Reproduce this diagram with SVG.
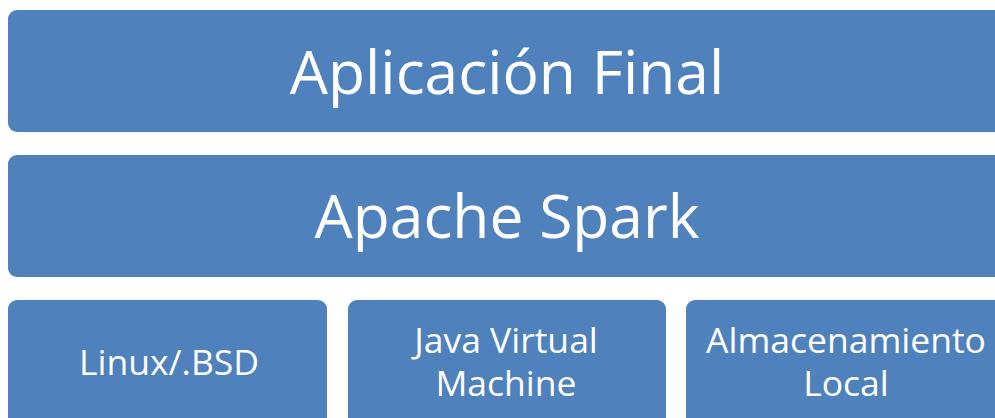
<svg xmlns="http://www.w3.org/2000/svg" width="995" height="418" viewBox="0 0 995 418">
<style>
.box{fill:#4F81BD;}
.t{fill:#ffffff;font-family:"Open Sans","Liberation Sans",sans-serif;text-anchor:middle;}
.big{font-size:60.5px;}
.small{font-size:35.5px;}
</style>
<rect width="995" height="418" fill="#ffffff"/>
<g id="aplicacion">
<rect class="box" x="8" y="10" width="998" height="122" rx="9"/>
<text class="t big" x="507" y="94">Aplicación Final</text>
</g>
<g id="spark">
<rect class="box" x="8" y="155" width="998" height="122" rx="9"/>
<text class="t big" x="507" y="238">Apache Spark</text>
</g>
<g id="linux">
<rect class="box" x="8" y="300" width="319" height="130" rx="9"/>
<text class="t small" x="169" y="375">Linux/.BSD</text>
</g>
<g id="jvm">
<rect class="box" x="348" y="300" width="318" height="130" rx="9"/>
<text class="t small" x="506" y="353">Java Virtual</text>
<text class="t small" x="506" y="396">Machine</text>
</g>
<g id="almacenamiento">
<rect class="box" x="686" y="300" width="320" height="130" rx="9"/>
<text class="t small" x="846" y="353">Almacenamiento</text>
<text class="t small" x="846" y="396">Local</text>
</g>
<g id="connectors"></g>
</svg>
